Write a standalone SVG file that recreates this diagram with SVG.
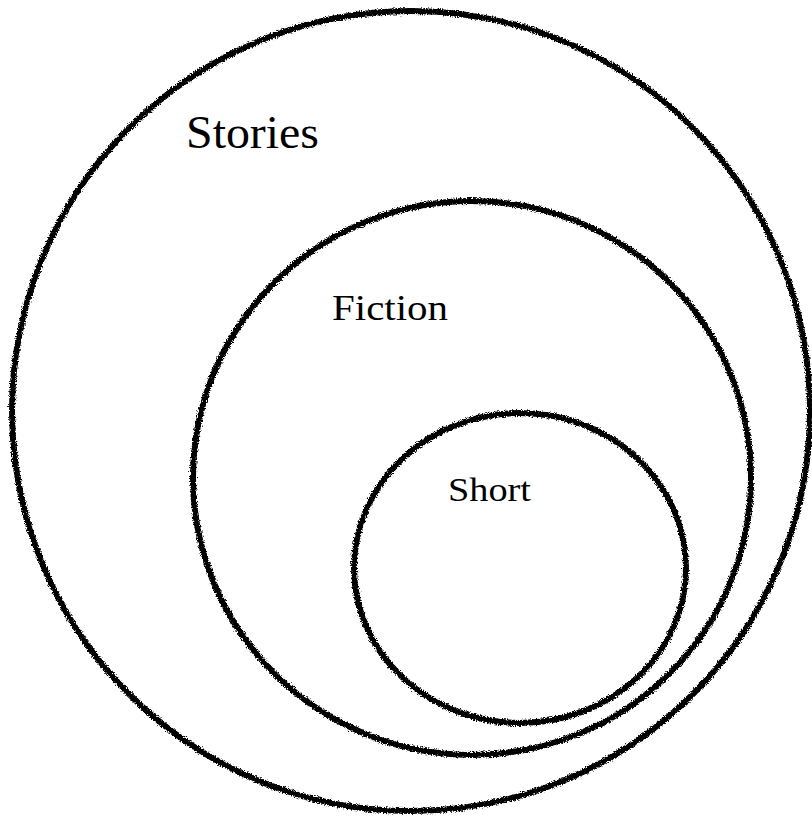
<svg xmlns="http://www.w3.org/2000/svg" width="812" height="819" viewBox="0 0 812 819">
<style>
.ring{fill:none;stroke:#000;stroke-width:6;filter:url(#rough)}
.lbl{font-family:"Liberation Serif","DejaVu Serif",serif;fill:#000}
</style>
<defs>
<filter id="rough" x="-5%" y="-5%" width="110%" height="110%" filterUnits="objectBoundingBox">
<feTurbulence type="fractalNoise" baseFrequency="0.8" numOctaves="2" seed="3" result="n"/>
<feDisplacementMap in="SourceGraphic" in2="n" scale="5" xChannelSelector="R" yChannelSelector="G"/>
</filter>
</defs>
<rect width="812" height="819" fill="#fff"/>
<g id="stories">
<ellipse class="ring" cx="411" cy="411" rx="399" ry="400"/>
<text class="lbl" x="186" y="148" font-size="46" textLength="133" lengthAdjust="spacingAndGlyphs">Stories</text>
</g>
<g id="fiction">
<ellipse class="ring" cx="472" cy="478" rx="279" ry="277"/>
<text class="lbl" x="332" y="320" font-size="35" textLength="116" lengthAdjust="spacingAndGlyphs">Fiction</text>
</g>
<g id="short">
<ellipse class="ring" cx="520" cy="568" rx="166" ry="155"/>
<text class="lbl" x="448" y="501" font-size="33" textLength="83" lengthAdjust="spacingAndGlyphs">Short</text>
</g>
<g id="connectors"/>
</svg>
